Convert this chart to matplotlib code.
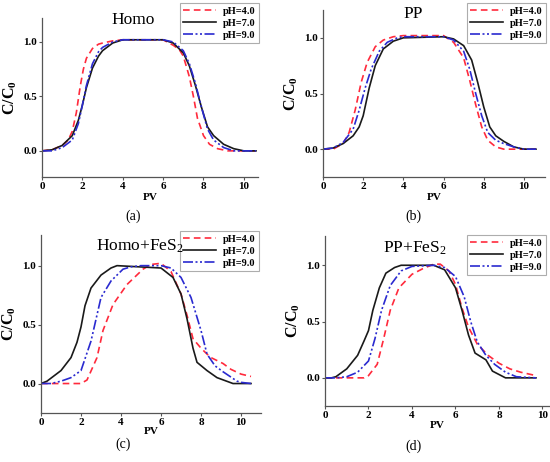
import matplotlib
matplotlib.use("Agg")
import matplotlib.pyplot as plt

plt.rcParams['font.family'] = ['Liberation Serif', 'DejaVu Serif']
plt.rcParams['mathtext.default'] = 'regular'

# (a) Homo
a_x4 = [0, 0.5, 1.0, 1.3, 1.5, 1.7, 1.9, 2.05, 2.2, 2.5, 2.8, 3.0, 3.5, 4.0, 6.0, 6.5, 6.8, 7.0, 7.3, 7.5, 7.7, 8.0, 8.3, 8.7, 9.2, 10.6]
a_y4 = [0, 0.01, 0.05, 0.1, 0.18, 0.35, 0.6, 0.75, 0.85, 0.94, 0.98, 0.99, 1.01, 1.02, 1.02, 0.97, 0.93, 0.87, 0.68, 0.5, 0.3, 0.14, 0.06, 0.02, 0, 0]
a_x7 = [0, 0.5, 1.0, 1.5, 1.8, 2.0, 2.2, 2.5, 2.8, 3.0, 3.5, 4.0, 6.0, 6.5, 7.0, 7.3, 7.6, 7.9, 8.2, 8.5, 9.0, 9.5, 10.0, 10.6]
a_y7 = [0, 0.01, 0.05, 0.14, 0.28, 0.42, 0.58, 0.76, 0.87, 0.92, 0.99, 1.02, 1.02, 0.99, 0.9, 0.78, 0.6, 0.4, 0.22, 0.14, 0.06, 0.02, 0, 0]
a_x9 = [0, 0.5, 1.0, 1.5, 1.8, 2.0, 2.2, 2.5, 2.8, 3.0, 3.5, 4.0, 6.0, 6.5, 7.0, 7.3, 7.6, 7.9, 8.2, 8.5, 9.0, 9.5, 10.6]
a_y9 = [0, 0, 0.03, 0.1, 0.25, 0.42, 0.6, 0.8, 0.91, 0.95, 1.0, 1.02, 1.02, 1.0, 0.92, 0.8, 0.62, 0.4, 0.2, 0.1, 0.03, 0, 0]

# (b) PP
b_x4 = [0, 0.5, 1.0, 1.3, 1.6, 1.9, 2.2, 2.6, 3.0, 3.5, 4.0, 6.0, 6.5, 7.0, 7.3, 7.6, 7.9, 8.2, 8.6, 9.0, 10.6]
b_y4 = [0, 0, 0.05, 0.15, 0.35, 0.6, 0.78, 0.92, 0.98, 1.01, 1.02, 1.02, 0.96, 0.82, 0.62, 0.4, 0.2, 0.08, 0.02, 0, 0]
b_x7 = [0, 0.5, 1.0, 1.5, 1.8, 2.0, 2.3, 2.6, 3.0, 3.5, 4.0, 6.0, 6.5, 7.0, 7.4, 7.7, 8.0, 8.3, 8.6, 9.0, 9.5, 10.0, 10.6]
b_y7 = [0, 0.01, 0.05, 0.12, 0.2, 0.3, 0.55, 0.75, 0.9, 0.97, 1.0, 1.01, 0.99, 0.93, 0.8, 0.6, 0.38, 0.2, 0.12, 0.07, 0.02, 0, 0]
b_x9 = [0, 0.5, 1.0, 1.5, 1.8, 2.1, 2.4, 2.8, 3.2, 3.7, 4.0, 6.0, 6.5, 7.0, 7.3, 7.6, 7.9, 8.2, 8.6, 9.0, 9.5, 10.0, 10.6]
b_y9 = [0, 0.01, 0.06, 0.18, 0.35, 0.55, 0.72, 0.88, 0.96, 1.0, 1.01, 1.01, 0.98, 0.88, 0.72, 0.5, 0.3, 0.15, 0.08, 0.05, 0.02, 0, 0]

# (c) Homo+FeS2
c_x4 = [0, 1.0, 2.0, 2.3, 2.8, 3.1, 3.6, 4.3, 5.1, 5.5, 6.0, 6.5, 7.0, 7.3, 7.6, 8.0, 8.3, 8.5, 9.1, 9.5, 10.0, 10.5]
c_y4 = [0, 0, 0, 0.03, 0.22, 0.45, 0.67, 0.84, 0.97, 1.01, 1.02, 0.95, 0.76, 0.58, 0.38, 0.3, 0.25, 0.22, 0.17, 0.12, 0.08, 0.06]
c_x7 = [0, 0.3, 1.0, 1.5, 1.8, 2.0, 2.2, 2.5, 3.0, 3.5, 3.8, 6.0, 6.6, 7.0, 7.3, 7.6, 7.8, 8.3, 8.8, 9.6, 10.5]
c_y7 = [0, 0.02, 0.11, 0.22, 0.35, 0.48, 0.66, 0.81, 0.92, 0.98, 1.0, 0.98, 0.9, 0.76, 0.55, 0.3, 0.18, 0.11, 0.05, 0, 0]
c_x9 = [0, 0.5, 1.0, 1.5, 2.0, 2.5, 3.0, 3.5, 4.1, 4.5, 5.0, 6.0, 6.5, 7.0, 7.5, 8.0, 8.3, 8.7, 9.1, 9.8, 10.0, 10.5]
c_y9 = [0, 0, 0.02, 0.05, 0.11, 0.36, 0.73, 0.87, 0.97, 0.99, 1.0, 1.0, 0.98, 0.9, 0.73, 0.45, 0.25, 0.15, 0.1, 0.02, 0.01, 0]

# (d) PP+FeS2
d_x4 = [0, 1.0, 1.8, 2.0, 2.4, 2.7, 3.0, 3.4, 4.0, 4.5, 5.0, 5.3, 5.7, 6.0, 6.3, 6.6, 7.0, 7.5, 8.0, 8.5, 9.0, 9.7]
d_y4 = [0, 0, 0, 0.02, 0.12, 0.35, 0.6, 0.8, 0.92, 0.97, 1.01, 1.01, 0.95, 0.83, 0.62, 0.45, 0.3, 0.2, 0.13, 0.08, 0.05, 0.02]
d_x7 = [0, 0.3, 0.5, 1.0, 1.5, 1.8, 2.0, 2.2, 2.5, 2.8, 3.2, 3.5, 5.0, 5.5, 6.0, 6.3, 6.6, 6.9, 7.4, 7.7, 8.3, 9.7]
d_y7 = [0, 0, 0.01, 0.08, 0.2, 0.33, 0.42, 0.6, 0.8, 0.93, 0.98, 1.0, 1.0, 0.96, 0.8, 0.6, 0.38, 0.22, 0.16, 0.06, 0, 0]
d_x9 = [0, 0.5, 1.0, 1.5, 2.0, 2.3, 2.6, 3.0, 3.5, 4.0, 5.0, 5.5, 6.0, 6.4, 6.7, 7.0, 7.4, 7.8, 8.3, 8.8, 9.7]
d_y9 = [0, 0, 0.01, 0.05, 0.15, 0.35, 0.6, 0.82, 0.95, 0.99, 1.0, 0.98, 0.9, 0.72, 0.5, 0.32, 0.2, 0.12, 0.05, 0.01, 0]

labels = ["pH=4.0", "pH=7.0", "pH=9.0"]
colors = ["#ff2a3c", "#1a1a1a", "#2a2ad0"]
styles = [(0, (4, 2.5)), "-", (0, (6, 1.5, 1.2, 1.5, 1.2, 1.5))]

W, H = 550, 462
fig = plt.figure(figsize=(W / 100, H / 100), dpi=100)

# pixel boxes: left, right, top, bottom
panels = [
    dict(box=(42, 258, 18, 177), xmax=10.7, ylim=(-0.24, 1.22), title="Homo", tpos=(133, 20),
         leg=(259, 3), lab="(a)", labpos=(133, 216), pvy=197,
         data=[(a_x4, a_y4), (a_x7, a_y7), (a_x9, a_y9)]),
    dict(box=(323, 545, 10, 177), xmax=11.05, ylim=(-0.25, 1.25), title="PP", tpos=(413, 14),
         leg=(546, 3), lab="(b)", labpos=(413, 216), pvy=197,
         data=[(b_x4, b_y4), (b_x7, b_y7), (b_x9, b_y9)]),
    dict(box=(41, 261, 235, 413), xmax=11.0, ylim=(-0.25, 1.26), title="Homo+FeS$_2$", tpos=(140, 246),
         leg=(259, 231), lab="(c)", labpos=(123, 444), pvy=431,
         data=[(c_x4, c_y4), (c_x7, c_y7), (c_x9, c_y9)]),
    dict(box=(325, 549, 236, 406), xmax=10.3, ylim=(-0.25, 1.26), title="PP+FeS$_2$", tpos=(415, 248),
         leg=(546, 235), lab="(d)", labpos=(413, 446), pvy=425,
         data=[(d_x4, d_y4), (d_x7, d_y7), (d_x9, d_y9)]),
]

for p in panels:
    l, r, t, b = p["box"]
    ax = fig.add_axes([l / W, 1 - b / H, (r - l) / W, (b - t) / H])
    for (xs, ys), lab, c, ls in zip(p["data"], labels, colors, styles):
        ax.plot(xs, ys, color=c, linestyle=ls, lw=1.2, label=lab)
    ax.set_xlim(0, p["xmax"])
    ax.set_ylim(*p["ylim"])
    ax.set_xticks([0, 2, 4, 6, 8, 10])
    ax.set_yticks([0.0, 0.5, 1.0])
    ax.set_yticklabels(["0.0", "0.5", "1.0"])
    for s in ["top", "right"]:
        ax.spines[s].set_visible(False)
    for s in ["left", "bottom"]:
        ax.spines[s].set_color("#555555")
        ax.spines[s].set_linewidth(0.9)
    ax.tick_params(direction="out", length=2, width=0.8, pad=1.5, labelsize=8, colors="#555555",
                   labelcolor="black")
    for tl in ax.get_xticklabels() + ax.get_yticklabels():
        tl.set_fontweight("bold")
    ax.set_ylabel("C/C$_0$", fontsize=11.5, fontweight="bold", labelpad=3)
    fig.text(p["tpos"][0] / W, 1 - p["tpos"][1] / H, p["title"], fontsize=12.5,
             ha="center", va="center")
    fig.text((l + r) / 2 / W, 1 - p["pvy"] / H, "PV", fontsize=8, fontweight="bold",
             ha="center", va="center")
    fig.text(p["labpos"][0] / W, 1 - p["labpos"][1] / H, p["lab"], fontsize=10,
             ha="center", va="center")
    lg = ax.legend(loc="upper right", bbox_to_anchor=(p["leg"][0] / W, 1 - p["leg"][1] / H),
                   bbox_transform=fig.transFigure, fontsize=7.5, frameon=True, fancybox=False,
                   handlelength=3.2, handletextpad=0.6, borderpad=0.35, labelspacing=0.25,
                   borderaxespad=0)
    lg.get_frame().set_edgecolor("#999999")
    lg.get_frame().set_linewidth(0.8)
    for tx in lg.get_texts():
        tx.set_fontweight("bold")

fig.savefig("out.png", dpi=100)
